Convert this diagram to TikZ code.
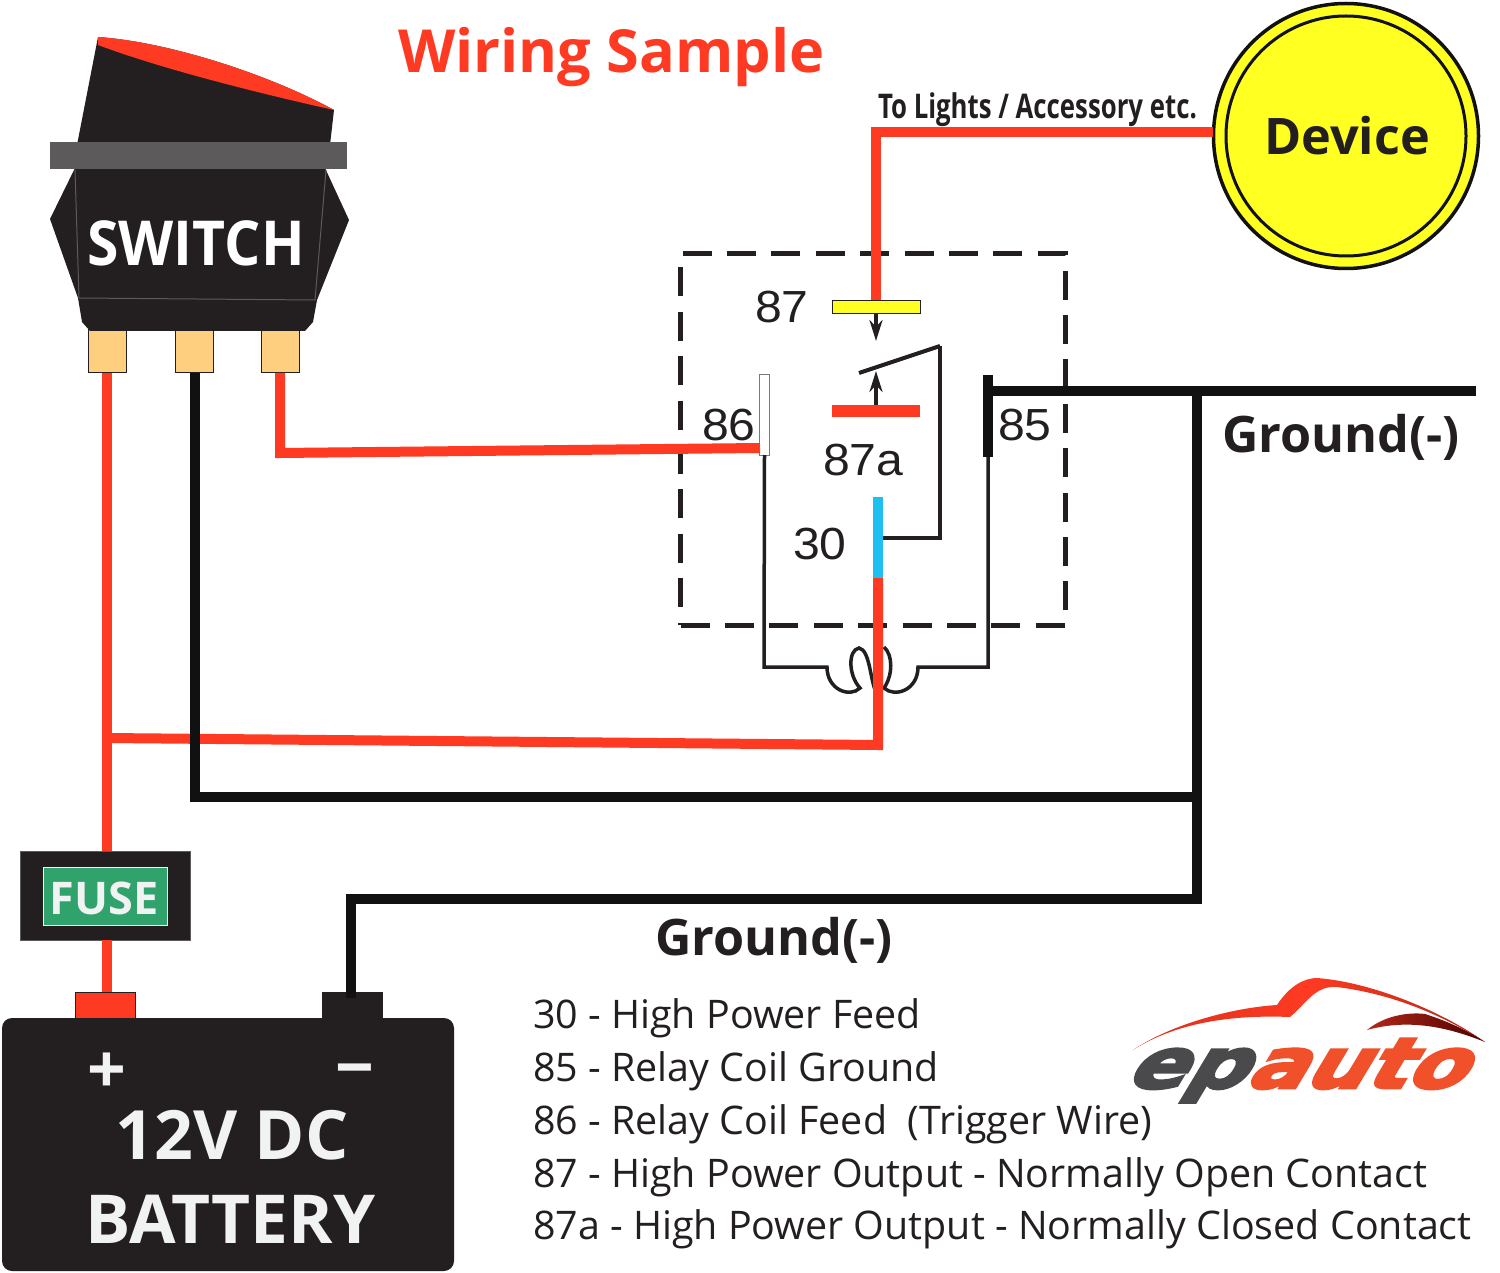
\documentclass[tikz,border=0pt]{standalone}
\usepackage{fontspec}
\setmainfont{Open Sans}
\newfontfamily\numfont{Liberation Sans}
\newfontfamily\logofont{DejaVu Sans}[UprightFont=* Bold,FakeBold=4]
\usetikzlibrary{arrows.meta,calc}
\definecolor{wred}{HTML}{FF3A22}
\definecolor{wblk}{HTML}{111111}
\definecolor{body}{HTML}{231F20}
\definecolor{barg}{HTML}{5D5A5B}
\definecolor{tan}{HTML}{FFCF80}
\definecolor{fgreen}{HTML}{2FA36B}
\definecolor{offw}{HTML}{F1F2F2}
\definecolor{dyel}{HTML}{FFFF22}
\definecolor{lgray}{HTML}{4A4A4C}
\definecolor{lorange}{HTML}{F0502A}
\definecolor{cblue}{HTML}{1FBFF2}
\tikzset{
  box/.style={rectangle,inner sep=0pt,outer sep=0pt,draw=none},
  term/.style={box,fill=tan,draw=body,line width=1pt,minimum width=38pt,minimum height=43pt},
  redw/.style={draw=wred,line width=10pt},
  blkw/.style={draw=wblk,line width=10pt},
  thin wire/.style={draw=body,line width=4pt},
  lab/.style={inner sep=0pt,outer sep=0pt,anchor=base west},
  num/.style={lab,font=\numfont\fontsize{45}{45}\selectfont,text=body,xscale=1.07,transform shape},
  bigw/.style={inner sep=0pt,outer sep=0pt,anchor=base,font=\bfseries\fontsize{#1}{#1}\selectfont,text=white},
  item/.style={lab,font=\fontsize{39.4}{40}\selectfont,text=body},
  gnd/.style={lab,font=\bfseries\fontsize{50.3}{50}\selectfont,text=body},
  arr/.style={draw=body,line width=4pt,-{Stealth[length=21pt,width=13pt]}},
  logo/.style={inner sep=0pt,outer sep=0pt,anchor=base west,font=\logofont\fontsize{70}{70}\selectfont,xslant=.6,xscale=1.22,transform shape},
}
\begin{document}
\begin{tikzpicture}[x=1pt,y=-1pt]
\useasboundingbox (0,0) rectangle (1500,1273);
% Nodes: terminals and boxes
\node[term] (t1) at (107,351.5) {};
\node[term] (t2) at (194,351.5) {};
\node[term] (t3) at (280,351.5) {};
\node[box,fill=body,draw=barg,line width=1pt,minimum width=170pt,minimum height=89pt] (fuse) at (105,895.5) {};
\node[box,fill=wred,draw=body,line width=.6pt,minimum width=60pt,minimum height=26pt] (pos) at (105,1005) {};
\node[box,fill=body,minimum width=61pt,minimum height=26pt] (neg) at (352.5,1005) {};
% Relay box
\node[box,draw=body,line width=5pt,dash pattern=on 29pt off 15.4pt,minimum width=385pt,minimum height=371pt] (relay) at (873,439.5) {};
% Relay contact bars
\node[box,fill=dyel,draw=body,line width=.5pt,minimum width=88pt,minimum height=13pt] (b87) at (876,306.5) {};
\node[box,fill=wred,minimum width=88pt,minimum height=12pt] (b87a) at (876,411) {};
\node[box,fill=white,draw=body!60,line width=.8pt,minimum width=9.5pt,minimum height=81pt] (b86) at (764.5,414.5) {};
\node[box,fill=wblk,minimum width=10pt,minimum height=82pt] (b85) at (988,416) {};
\node[box,fill=cblue,minimum width=10pt,minimum height=81pt] (b30) at (878,537.5) {};
% Device
\node[circle,inner sep=0pt,outer sep=0pt,fill=dyel,draw=wblk,line width=3.5pt,minimum size=265pt] (dev) at (1346,136) {};
\draw[wblk,line width=3pt] (dev.center) circle[radius=120];
\node[inner sep=0pt,font=\bfseries\fontsize{50.4}{50}\selectfont,text=body] (devt) at (1347,136) {Device};
% Named free ends
\coordinate (armL) at (859,373);
\coordinate (armR) at (940,346);
\coordinate (tip87) at (876,341);
\coordinate (tipa) at (876,371);
\coordinate (c86) at (764,667);
\coordinate (c85) at (988,667);
\coordinate (cL) at (827,667);
\coordinate (cR) at (918,667);
\coordinate (gndE) at (1476,391);
\coordinate (gndJ) at (1197,391);
\coordinate (r30b) at (878,745);
\coordinate (rJ) at (106.5,738);
\coordinate (r3b) at (280,453);
\coordinate (r86) at (760,448);
\coordinate (r87c) at (876,132);
\coordinate (r87e) at (1213,132);
\coordinate (b2b) at (195,797);
\coordinate (b2e) at (1197,797);
\coordinate (gndB) at (1197,899);
\coordinate (gndC) at (351,899);
% Coil
\draw[draw=body,line width=3.5pt] (b86.south) -- (c86) -- (cL)
  .. controls (827,690) and (850,698) .. (860,688)
  .. controls (848,675) and (848,650) .. (859,648)
  .. controls (870,650) and (870,680) .. (876,692);
\draw[draw=body,line width=3.5pt] (b85.south) -- (c85) -- (cR)
  .. controls (918,690) and (895,698) .. (884,688)
  .. controls (893,675) and (893,655) .. (884,647);
% Relay inner wires
\draw[thin wire] (armL) -- (armR);
\draw[thin wire] (armR) -- (armR |- b30.east) -- (b30.east);
\draw[arr] (b87.south) -- (tip87);
\draw[arr] (b87a.north) -- (tipa);
% Power wires
\draw[redw] (t1.south -| rJ) -- (rJ |- fuse.north);
\draw[redw] (rJ |- fuse.south) -- (rJ |- pos.north);
\draw[redw] (rJ) -- (r30b) -- (b30.south);
\draw[blkw] (t2.south -| b2b) -- (b2b) -- (b2e);
\draw[redw] (t3.south) -- (r3b) -- (r86);
\draw[redw] (r87e) -- (r87c) -- (b87.north);
\draw[blkw] (b85.east |- gndE) -- (gndE);
\draw[blkw] (gndJ) -- (gndB) -- (gndC) -- ($(neg.north)+(-1.5,6)$);
% Switch
\fill[body] (98,37) .. controls (170,42) and (270,75) .. (334,110) -- (330,145) -- (77,145) -- cycle;
\fill[wred] (98,37) .. controls (170,42) and (270,75) .. (334,110) .. controls (280,98) and (170,72) .. (98,45) -- cycle;
\fill[body] (75,168) -- (50,219) -- (78,298) -- (82,322) -- (90,331) -- (305,331) -- (313,322) -- (317,300) -- (349,220) -- (325,168) -- cycle;
\draw[barg,line width=1pt] (75,170) -- (79,298) -- (315,300) -- (326,170);
\node[box,fill=barg,minimum width=297pt,minimum height=27pt] (flange) at (198.5,155.5) {};
\node[bigw=62,xscale=.92,transform shape] (swt) at (196,266) {SWITCH};
% Fuse
\node[box,fill=fgreen,draw=offw,line width=1pt,minimum width=124pt,minimum height=58pt] (fg) at (105,896) {};
\node[bigw=45,text=offw] (ft) at (104,914) {FUSE};
% Battery
\node[box,fill=body,rounded corners=10pt,minimum width=452pt,minimum height=253pt] (bat) at (228,1144.5) {};
\node[bigw=68,text=offw] (plus) at (107,1093) {+};
\node[bigw=68,text=offw] (minus) at (355,1091) {−};
\node[bigw=68,text=offw] (v12) at (232,1159) {12V DC};
\node[bigw=67.5,text=offw] (batt) at (230.5,1243) {BATTERY};
% Labels
\node[lab,font=\bfseries\fontsize{59.4}{60}\selectfont,text=wred] (title) at (398,73) {Wiring Sample};
\node[lab,font=\bfseries\fontsize{34}{34}\selectfont,text=body,xscale=.758,transform shape] (tol) at (878,119) {To Lights / Accessory etc.};
\node[num] (n87) at (755,323) {87};
\node[num] (n86) at (702,440) {86};
\node[num] (n85) at (998,440) {85};
\node[num] (n87a) at (823,475) {87a};
\node[num] (n30) at (793,559) {30};
\node[gnd] (g1) at (1222,452) {Ground(-)};
\node[gnd] (g2) at (655,955) {Ground(-)};
\node[item] (i1) at (533,1028) {30 - High Power Feed};
\node[item] (i2) at (533,1081) {85 - Relay Coil Ground};
\node[item] (i3) at (533,1134) {86 - Relay Coil Feed\ \ (Trigger Wire)};
\node[item] (i4) at (533,1187) {87 - High Power Output - Normally Open Contact};
\node[item] (i5) at (533,1239) {87a - High Power Output - Normally Closed Contact};
% Logo
\path[left color=wred!85!black,right color=wred!70!black,middle color=wred]
  (1133,1050) .. controls (1170,1025) and (1230,1008) .. (1277,1005)
  .. controls (1290,985) and (1305,978) .. (1317,978)
  .. controls (1370,982) and (1440,1010) .. (1485,1042)
  .. controls (1450,1020) and (1400,995) .. (1337,987)
  .. controls (1315,985) and (1305,1005) .. (1290,1017)
  .. controls (1240,1015) and (1180,1020) .. (1133,1050) -- cycle;
\path[left color=wred!70!black,right color=black!70!red]
  (1367,1030) .. controls (1385,1015) and (1410,1012) .. (1425,1014)
  .. controls (1450,1022) and (1470,1032) .. (1485,1042)
  .. controls (1450,1028) and (1410,1018) .. (1367,1030) -- cycle;
\node[logo,text=lgray] (lep) at (1124,1088) {ep};
\node[logo,text=lorange] (lauto) at (1244,1088) {auto};
\end{tikzpicture}
\end{document}
